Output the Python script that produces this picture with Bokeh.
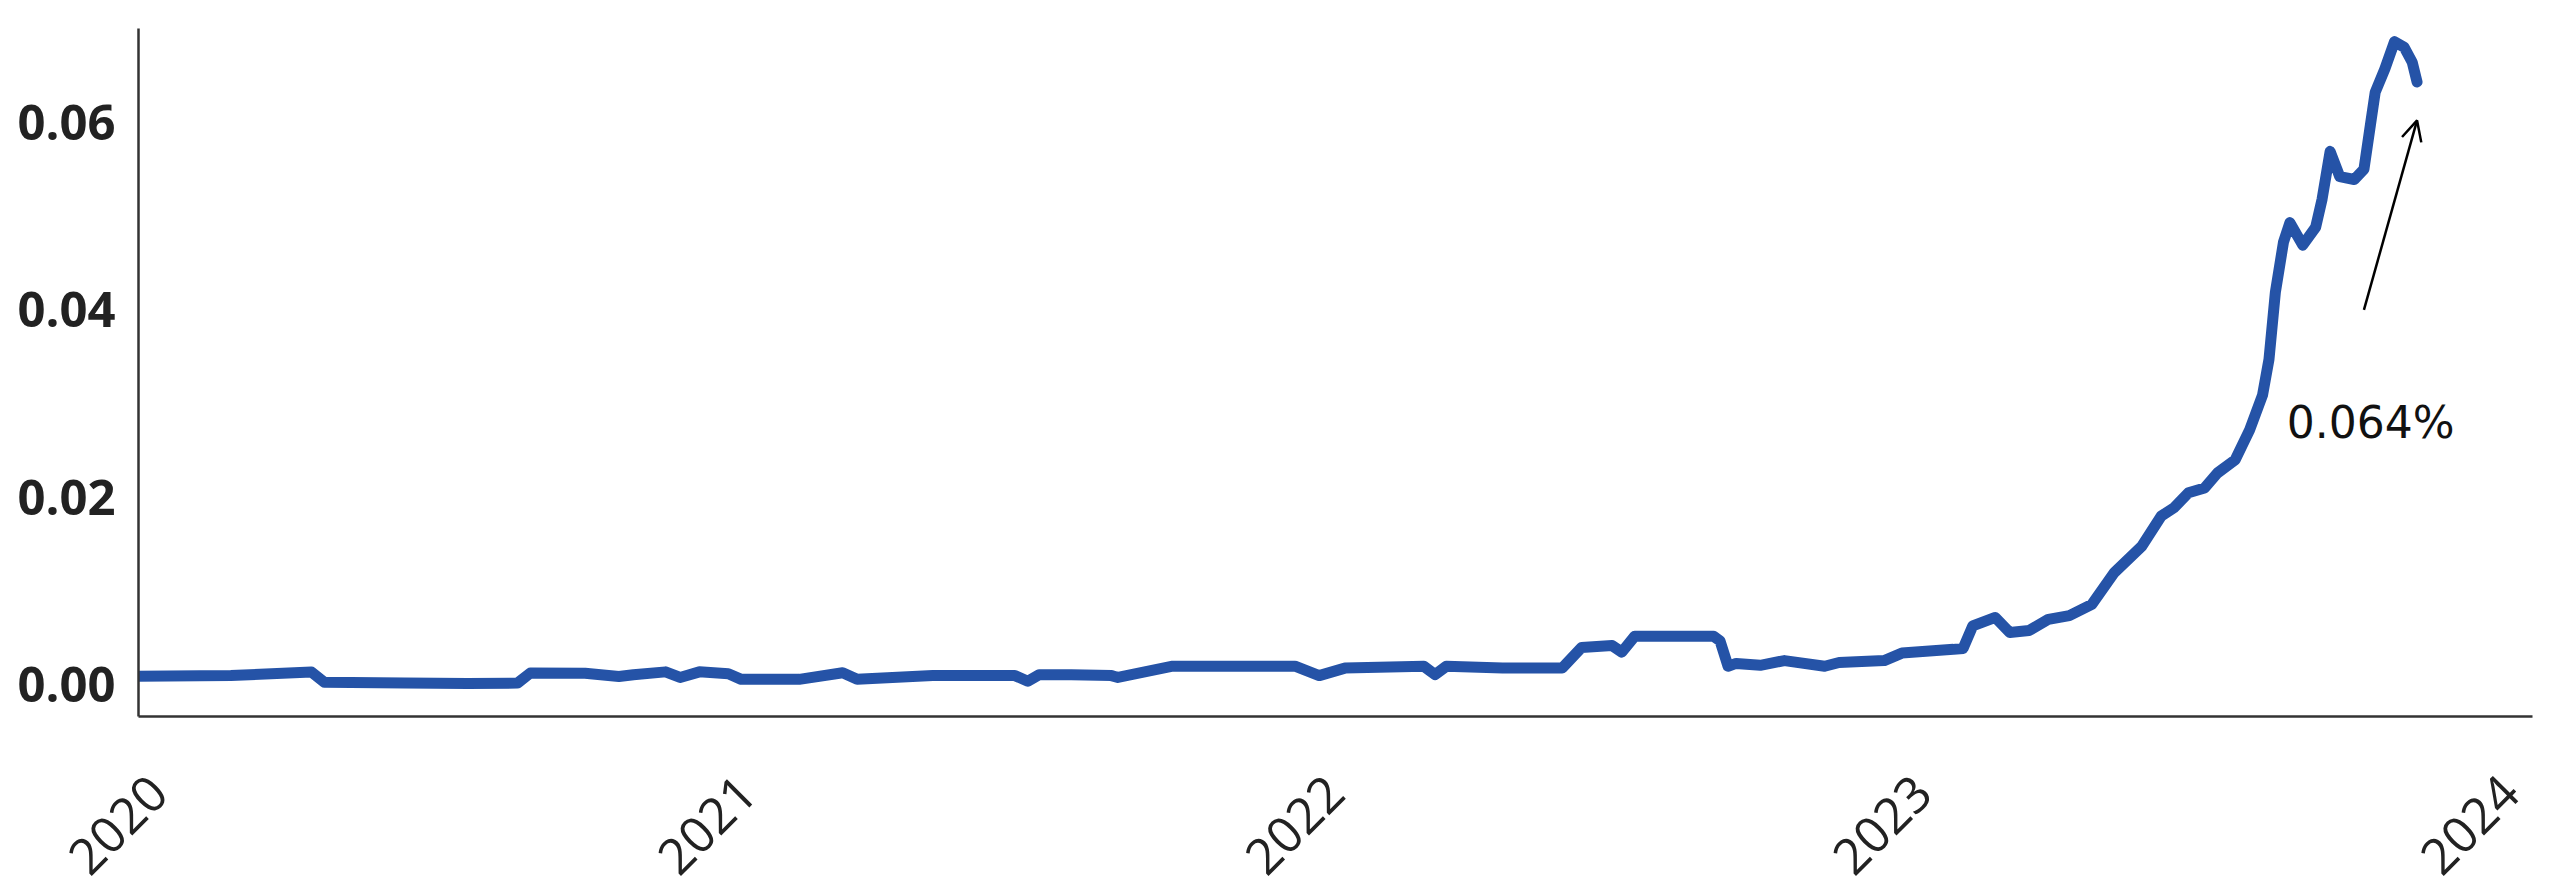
import math
import pandas as pd
from bokeh.plotting import figure
from bokeh.models import (Range1d, FixedTicker, NumeralTickFormatter,
                          DatetimeTickFormatter, Label, Arrow, OpenHead)
from bokeh.embed import file_html
from bokeh.resources import INLINE

# ---- data ----
dates = [
    "2019-12-19", "2020-02-15", "2020-04-05", "2020-04-13", "2020-06-02",
    "2020-07-11", "2020-08-11", "2020-08-19", "2020-09-22", "2020-10-13",
    "2020-10-22", "2020-11-11", "2020-11-20", "2020-12-02", "2020-12-20",
    "2020-12-28", "2021-02-02", "2021-03-01", "2021-03-10", "2021-04-26",
    "2021-06-16", "2021-06-24", "2021-07-01", "2021-07-21", "2021-08-15",
    "2021-08-19", "2021-09-22", "2021-12-07", "2021-12-22", "2022-01-07",
    "2022-02-25", "2022-03-04", "2022-03-11", "2022-04-15", "2022-05-22",
    "2022-06-03", "2022-06-22", "2022-06-28", "2022-07-06", "2022-08-24",
    "2022-08-28", "2022-09-02", "2022-09-07", "2022-09-22", "2022-10-07",
    "2022-11-01", "2022-11-10", "2022-12-08", "2022-12-19", "2023-01-20",
    "2023-01-26", "2023-02-01", "2023-02-15", "2023-02-24", "2023-03-08",
    "2023-03-20", "2023-04-02", "2023-04-16", "2023-04-30", "2023-05-17",
    "2023-05-29", "2023-06-06", "2023-06-15", "2023-06-25", "2023-07-03",
    "2023-07-14", "2023-07-23", "2023-07-31", "2023-08-04", "2023-08-08",
    "2023-08-13", "2023-08-17", "2023-08-25", "2023-09-02", "2023-09-06",
    "2023-09-11", "2023-09-17", "2023-09-26", "2023-10-02", "2023-10-06",
    "2023-10-09", "2023-10-15", "2023-10-21", "2023-10-27", "2023-11-01",
    "2023-11-04",
]
values = [
    0.00093, 0.00100, 0.00139, 0.00029, 0.00020,
    0.00015, 0.00020, 0.00128, 0.00125, 0.00090,
    0.00110, 0.00140, 0.00080, 0.00140, 0.00120,
    0.00060, 0.00060, 0.00130, 0.00060, 0.00100,
    0.00100, 0.00040, 0.00110, 0.00110, 0.00100,
    0.00080, 0.00200, 0.00200, 0.00100, 0.00180,
    0.00200, 0.00110, 0.00200, 0.00180, 0.00180,
    0.00400, 0.00420, 0.00350, 0.00520, 0.00520,
    0.00470, 0.00200, 0.00230, 0.00210, 0.00260,
    0.00200, 0.00240, 0.00260, 0.00340, 0.00380,
    0.00390, 0.00630, 0.00720, 0.00560, 0.00580,
    0.00700, 0.00740, 0.00860, 0.01200, 0.01480,
    0.01800, 0.01890, 0.02050, 0.02100, 0.02260,
    0.02400, 0.02720, 0.03090, 0.03470, 0.04190,
    0.04720, 0.04930, 0.04690, 0.04880, 0.05180,
    0.05690, 0.05420, 0.05390, 0.05500, 0.05970,
    0.06320, 0.06570, 0.06860, 0.06800, 0.06640,
    0.06430,
]
x_tick_dates = ["2020-01-01", "2021-01-01", "2022-01-01", "2023-01-01", "2024-01-01"]
y_ticks = [0.0, 0.02, 0.04, 0.06]
x_limits = ["2019-12-19 14:00", "2024-01-14 17:00"]
y_limits = [-0.00336, 0.0700]

annotation_text = "0.064%"
annotation_date = "2023-08-15"
annotation_value = 0.028
arrow_from = ("2023-10-02", 0.0400)
arrow_to = ("2023-11-04", 0.0602)


def ms(d):
    return pd.Timestamp(d).value / 1e6


xs = [ms(d) for d in dates]

p = figure(
    x_axis_type="datetime",
    frame_width=2394, frame_height=688,
    min_border_left=138, min_border_right=4, min_border_top=28, min_border_bottom=0,
    x_range=Range1d(ms(x_limits[0]), ms(x_limits[1])),
    y_range=Range1d(y_limits[0], y_limits[1]),
    output_backend="svg", toolbar_location=None,
    background_fill_color="white", border_fill_color="white",
)
p.grid.visible = False
p.outline_line_color = None

p.line(xs, values, line_width=11, line_color="#2553a7",
       line_join="round", line_cap="round")

# axes
for ax in (p.xaxis[0], p.yaxis[0]):
    ax.axis_line_color = "#333333"
    ax.axis_line_width = 2.5
    ax.major_tick_line_color = None
    ax.minor_tick_line_color = None

p.xaxis.ticker = FixedTicker(ticks=[ms(d) for d in x_tick_dates])
p.xaxis.formatter = DatetimeTickFormatter(years="%Y", months="%Y", days="%Y")
p.xaxis.major_label_orientation = math.pi / 4
p.xaxis.major_label_standoff = 62
p.xaxis.major_label_text_font = "Open Sans"
p.xaxis.major_label_text_font_size = "50px"
p.xaxis.major_label_text_color = "#222222"

p.yaxis.ticker = FixedTicker(ticks=y_ticks)
p.yaxis.formatter = NumeralTickFormatter(format="0.00")
p.yaxis.major_label_standoff = 17
p.yaxis.major_label_text_font = "Open Sans"
p.yaxis.major_label_text_font_style = "bold"
p.yaxis.major_label_text_font_size = "49px"
p.yaxis.major_label_text_color = "#222222"

# annotation
p.add_layout(Label(x=ms(annotation_date), y=annotation_value, text=annotation_text,
                   text_font="DejaVu Sans", text_font_size="44px",
                   text_color="#111111", text_baseline="alphabetic"))
p.add_layout(Arrow(end=OpenHead(size=20, line_width=2.5, line_color="black"),
                   x_start=ms(arrow_from[0]), y_start=arrow_from[1],
                   x_end=ms(arrow_to[0]), y_end=arrow_to[1],
                   line_width=2.5, line_color="black"))

open("out.html", "w").write(file_html(p, INLINE))
